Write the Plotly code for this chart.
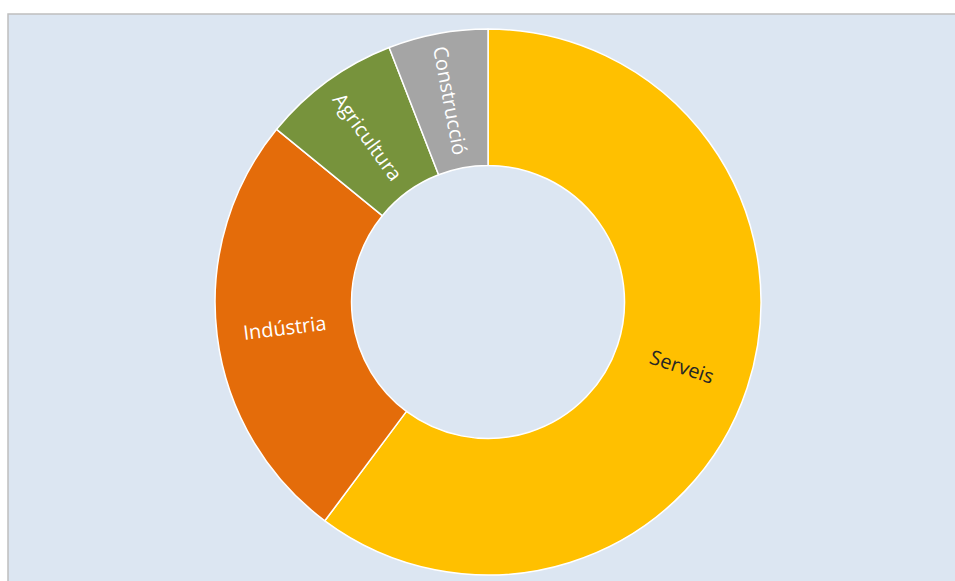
import math
import plotly.graph_objects as go

sectors = ["Serveis", "Indústria", "Agricultura", "Construcció"]
shares = [60.2, 25.7, 8.2, 5.9]
colors = ["#FFC000", "#E46C0A", "#77933C", "#A5A5A5"]
text_colors = ["#262626", "#FFFFFF", "#FFFFFF", "#FFFFFF"]

W, H = 955, 581
ML, MT = 8, 14
PW, PH = W - ML, H - MT
HOLE = 0.5
dom_x = [0.2186, 0.7952]
dom_y = [0.0106, 0.9735]

fig = go.Figure()
fig.add_trace(go.Pie(
    labels=sectors,
    values=shares,
    hole=HOLE,
    sort=False,
    direction="clockwise",
    rotation=0,
    marker=dict(colors=colors, line=dict(color="#FFFFFF", width=1.5)),
    textinfo="none",
    domain=dict(x=dom_x, y=dom_y),
    showlegend=False,
    hoverinfo="label+percent",
))

# radial labels placed at the middle of each ring segment
cx = sum(dom_x) / 2
cy = sum(dom_y) / 2
R_px = (dom_x[1] - dom_x[0]) / 2 * PW
r_mid = (1 + HOLE) / 2 * R_px
total = sum(shares)
annotations = []
cum = 0.0
for lab, v, tc in zip(sectors, shares, text_colors):
    theta = (cum + v / 2) / total * 360.0
    cum += v
    t = math.radians(theta)
    ax = cx + r_mid * math.sin(t) / PW
    ay = cy + r_mid * math.cos(t) / PH
    ang = theta - 90
    if ang > 90:
        ang -= 180
    annotations.append(dict(
        x=ax, y=ay, xref="paper", yref="paper", text=lab, showarrow=False,
        textangle=ang, xanchor="center", yanchor="middle",
        font=dict(family="Open Sans, Noto Sans, sans-serif", size=20, color=tc),
    ))

fig.update_layout(
    width=W, height=H,
    margin=dict(l=ML, r=0, t=MT, b=0),
    paper_bgcolor="#FFFFFF",
    annotations=annotations,
    shapes=[dict(type="rect", xref="paper", yref="paper", x0=0, x1=1.05, y0=-0.05, y1=1,
                 fillcolor="#DCE6F2", line=dict(color="#BFBFBF", width=1.5), layer="below")],
)

fig.write_html("out.html")
